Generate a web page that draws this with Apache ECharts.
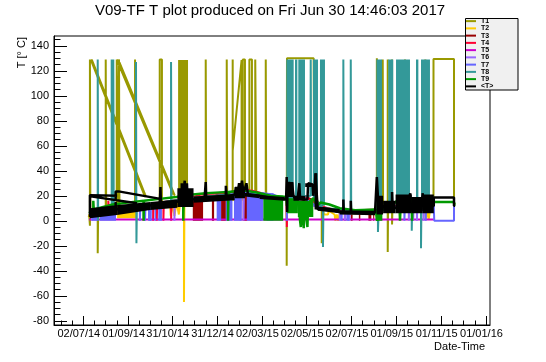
<!DOCTYPE html>
<html><head><meta charset="utf-8">
<script src="https://cdn.jsdelivr.net/npm/echarts@6/dist/echarts.min.js"></script>
<style>html,body{margin:0;padding:0;background:#fff}#c{width:546px;height:362px}</style>
</head><body><div id="c"></div>
<script>
// x values are days since 02/07/14
const xTickDays = [0, 61, 121, 182, 243, 304, 365, 426, 487, 548];
const xTickLabels = ['02/07/14','01/09/14','31/10/14','31/12/14','02/03/15','02/05/15','02/07/15','01/09/15','01/11/15','01/01/16'];
const yTickValues = [-80,-60,-40,-20,0,20,40,60,80,100,120,140];
const seriesNames = ['T1','T2','T3','T4','T5','T6','T7','T8','T9','<T>'];

// line data: [day, value]; null = break in the line
const T1_line = [[8,5],[9,-4],[9,129],[9.6,5],[19.6,7],[19.6,-26],[20.2,7],[30.5,8],[30.5,129],[31.1,8],
 [45.5,9],[45.5,129],[47,129],[47,9],[48.6,9],[48.6,129],[49.2,9],[70.4,10],[70.4,129],[71,10],
 [104,13],[104,129],[107,129],[107,13],[129,15],[166.6,18],[166.6,129],[167.2,18],
 [195.2,20],[195.2,129],[195.8,20],[203.3,21],[203.3,129],[203.3,56],[215.4,128.6],[215.4,22],
 [217,24],[217,129],[220,129],[220,24],[226,22],[226,129],[229.5,129],[229.5,22],[234,21],[234,129],[235.5,129],[235.5,21],
 [248.3,19],[248.3,129],[248.9,19],[276.8,17],[276.8,-36],[277.2,130],[313.5,130],[314,70],[314.4,20],
 [324.5,10],[324.5,-18],[325,10],[399.5,7],[399.5,130],[401.5,130],[401.5,8],[407.5,10],[407.5,129],[408,10],
 [414.3,10],[414.3,129],[414.3,-25],[414.8,10],[420.2,10],[420.2,129],[420.2,-3],[420.7,10],
 [437.8,12],[437.8,129],[438.3,12],[465.5,12],[465.5,129],[467,129],[467,12],
 [476.6,13],[476.6,129.5],[504.5,129.5],[504.5,14],[506,13],
 null,[10,129],[84,19],null,[11.5,129],[85.5,19],null,[45.5,129],[122.5,21],null,[47.5,129],[124.5,20]];
const T2_line = [[7,3],[9,5],[15,4],[20,6],[30,7],[44,7.5],[75,9],[90,11.5],[110,13],[118,14],[119,4],[121,14],[124,4],
 [127,15],[130,5],[132,15.5],[137,16],[137,-65],[137.6,16],[165,18],[196,19.5],[197,16.6],[216,16.6],[217,22],[240,20],
 [270,18],[290,19],[320,11],[326,8],[328,5],[333,5],[334,8],[342,5],[343,0],[345,5],[347,0],[349,6],[370,6],[400,8],
 [440,12],[465,10],[466,1],[468,9],[470,1],[472,9],[477,11]];
const T3_line = [[8,6],[40,8.5],[80,12],[120,15.5],[149,18],[163,19.5],[180,20.5],[200,22],[217,25],[230,23],[245,21],
 [270,18],[300,20],[320,14],[330,10],[350,8],[370,7],[400,9],[430,12],[477,12]];
const T4_line = [[8,6],[34,9],[34,16],[35,9],[60,11],[95,13],[95,0],[95.6,13],[100,14],[100,0],[100.6,14],[109,15],[109,0],
 [109.6,15],[119.5,16],[119.5,0],[120.1,16],[150,19],[160,21],[180,22],[200,23],[215,25],[230,24],[250,21],[276,18],
 [277,0],[277,-5],[277.6,18],[300,20],[320,12],[340,9],[356,8],[356,0],[356.6,8],[400,9],[440,13],[477,12]];
const T5_line = [[8,1],[477,1]];
const T6_line = [[8,5],[12,6],[12,0],[12.6,6],[60,10],[124,15.5],[124,0],[124.6,15.5],[150,18],[200,21],[214,22.5],[214,0],
 [214.6,22.5],[218,23],[218,0],[218.6,23],[250,20],[280,17],[320,11],[349,7],[349,0],[349.6,7],[356,7],[356,0],[356.6,7],
 [362,6],[362,0],[362.6,6],[400,9],[443,12],[443,0],[443.6,12],[449,12],[449,0],[449.6,12],[454,11],[454,0],[454.6,11],
 [463,12],[463,0],[463.6,12],[477,12]];
const T7_line = [[8,4],[20,7],[40,9],[60,10],[77,11],[77,0],[77.6,11],[84,12],[84,0],[84.6,12],[91,12.5],[91,0],[91.6,12.5],
 [120,15],[150,17],[180,19],[216,22],[245,22],[258,21],[270,18],[277,17],[277,0],[277.6,17],[300,18],[320,11],[349,7],
 [380,7],[410,10],[437,12],[437,0],[437.6,12],[466,12],[466,0],[466.6,12],[477,12],[477.6,0],[504.5,0],[504.5,12],[506,12]];
const T8_line = [[8,5],[19.6,7],[19.6,129],[20.2,129],[20.2,0],[20.8,7],[38.6,9],[38.6,129],[39.2,129],[39.2,8],[40.8,9],
 [40.8,129],[41.4,9],[71.7,11],[71.7,127],[72.3,127],[72.3,-18],[72.9,11],[119.4,16],[119.4,127],[120,16],[160,19],[200,21],
 [240,21],[276,18],[309,20],[309.5,129],[310.3,129],[310.3,20],[312,22],[320,14],[326.2,10],[326.2,-21],[326.8,10],
 [353.9,9],[353.9,129],[354.5,9],[364,8],[364,129],[364.6,8],[398,8],[401,8],[401,-9],[402,8],[447,12],[447,-8],[447.6,12],
 [459.6,12],[459.6,-22],[460.2,12],[477,12]];
const T9_line = [[8,6],[13.6,9],[13.6,16],[14.2,9],[40,13],[60,14.5],[82,16],[82,0],[82.6,16],[104,17.5],[126.7,19],[136,20],
 [136,0],[136.6,20],[149,21],[166.6,22],[180,22.5],[197,23],[197,0],[197.6,23],[213,24],[222,24],[236,22.6],[255,20],
 [270,19.5],[276,19],[277,12],[292,16],[296,-5],[297,14],[300,-6],[301,15],[305,-5],[306,14],[313,18],[318,12],[323,14.6],
 [335,13],[349,10],[370,8.5],[398,9],[400,0],[402,8],[420,12],[430,18],[431,0],[432,15],[447,18],[447.5,0],[448,16],
 [455,18],[457,8],[460,14],[468,13],[472,9],[477,15],[504.5,15],[505,12]];
const TM_line = [[9,3],[9,20.5],[46,20],null,[44,5],[44,23.5],[48,23.5],[105,17.5],null,[10,19.5],[73,14],null,
 [9,6],[23,7.5],[43,9],[64,10.5],[84,12],[104,13],[105,13],[105,27],[105.6,14],[125,15],[134,16],[134,30],[135,16],
 [138,32],[139,17],[141,30],[142,17],[145,17],[165,17.5],[166.6,17.5],[166.6,31],[167.2,18],[180,18.5],[194,19.5],[194,28],
 [195,19.5],[200,20],[206,21],[208,27],[210,22],[212,30],[214,24],[216,32],[218,22],[222,30],[224,21],[240,20],[255,18.5],
 [270,17.5],[276,17],[276.8,35],[277.4,7],[278,28],[280,31],[282,22],[284,30],[286,20],[288,18],[290,17],[292,19],[294,30],
 [295,18],[300,17],[305,17],[306,30],[312,29],[313,20],[315,28],[316,38],[318,38],[319,9],[322,10],[326,10],[335,9],[349,7],
 [353.9,7],[353.9,17],[354.5,7],[364,6.5],[364,16],[364.6,6.5],[397,6.5],[399.5,7],[399.5,35],[401.5,35],[402,8],[410,12],
 [420,10],[420.2,23],[421,10],[440,12],[445,22],[446,8],[460,12],[462,22],[463,8],[477,12],[477,18.7],[504.5,18.7],
 [504.5,12],[506,12]];

// dense filled stretches: [dayStart, dayEnd, low, high] or [dayStart, dayEnd, lowStart, highStart, lowEnd, highEnd]
const T1_fill = [[129,142.5,18,128.6]];
const T2_fill = [[46,73,2,7.5]];
const T3_fill = [[149,163,0,19],[175,178,0,19.5],[187.5,194,0,20],[217,223,0,23],[240.5,242.5,0,15],[364,366.5,0,5],
 [375,377,0,5],[388,392,0,6],[394.5,396,0,5]];
const T4_fill = [];
const T5_fill = [];
const T6_fill = [];
const T7_fill = [[11.5,20.5,0,7],[22.7,36.3,0,6],[36.3,44.5,0,7],[88,93,0,12],[97,99,0,12],[102,107,0,12],
 [181.5,187.5,0,18],[194,203,0,19],[205,215.5,0,20],[222.5,245,0,22],[249.6,258.6,0,22],[350,353,0,7],[358,362,0,6]];
const T8_fill = [[276.3,286.3,18,129],[288.1,291.3,18,129],[292.6,301.7,18,129],[312.6,319.4,18,129],[322.1,328.9,12,129],
 [398.9,406.6,8,129],[415,421.8,10,129],[425.6,444.6,12,129],[452.8,456,12,129],[459.6,471.8,12,129]];
const T9_fill = [[245,272,0,20],[277,292,6,18],[292,313,3,16],[398,407,0,8]];
const TM_fill = [[9,46,2,10,4.6,12.6],[46,91,4.6,12.6,8.6,15],[91,128,8.6,15,10.5,17],[128,150,11,26],
 [150,206,14.5,19.5,16.5,21.5],[206,220,18,27],[220,240,19.5,22.5,18,21],[240,274,17.5,20.5,16,19],[278,286,19,31],
 [286,302,16,20],[302,311,27,30],[314.7,318.4,9,38],[319,349,8,11.5,6,9.5],[349,397,5,8.5,4.5,8],[399,408,5,20],
 [408,425,6,16],[425,447,6,21],[447,462,6,19],[462,477,6,21]];

const lines = [T1_line,T2_line,T3_line,T4_line,T5_line,T6_line,T7_line,T8_line,T9_line,TM_line];
const fills = [T1_fill,T2_fill,T3_fill,T4_fill,T5_fill,T6_fill,T7_fill,T8_fill,T9_fill,TM_fill];
const colors = ['#999900','#ffcc00','#990000','#ff0033','#cc00cc','#9966ff','#6666ff','#339999','#009900','#000000'];
const widths = [2,2,2,2,2,2,2,2,2.5,2.5];

const X_MIN = -39.9, X_MAX = 553.5, Y_MIN = -83.4, Y_MAX = 147.8;
const FONT = '"Liberation Sans", Arial, Helvetica, sans-serif';

const xMinor = [];
for (let i = 0; i < xTickDays.length - 1; i++) {
  const step = (xTickDays[i+1] - xTickDays[i]) / 4;
  for (let k = 1; k < 4; k++) xMinor.push(xTickDays[i] + k * step);
}
const avgStep = (xTickDays[xTickDays.length-1] - xTickDays[0]) / (xTickDays.length - 1) / 4;
for (let v = xTickDays[0] - avgStep; v > X_MIN; v -= avgStep) xMinor.push(v);
for (let v = xTickDays[xTickDays.length-1] + avgStep; v < X_MAX; v += avgStep) xMinor.push(v);
const yMinor = [];
for (let v = -80; v <= 145; v += 5) if (v % 20 !== 0) yMinor.push(v);

function fillRenderer(color, items) {
  return function (params, api) {
    const it = items[params.dataIndex];
    const d0 = it[0], d1 = it[1];
    const lo0 = it[2], hi0 = it[3];
    const lo1 = it.length > 4 ? it[4] : lo0, hi1 = it.length > 4 ? it[5] : hi0;
    const pts = [api.coord([d0, lo0]), api.coord([d0, hi0]), api.coord([d1, hi1]), api.coord([d1, lo1])];
    if (pts[2][0] - pts[0][0] < 1) { pts[2][0] = pts[0][0] + 1; pts[3][0] = pts[0][0] + 1; }
    return { type: 'polygon', shape: { points: pts }, style: { fill: color } };
  };
}

const series = [];
seriesNames.forEach((name, i) => {
  const z = 2 + i * 0.01;
  series.push({
    type: 'line', name: name, color: colors[i], symbol: 'none', showSymbol: false, silent: true, z: z,
    lineStyle: { width: widths[i], color: colors[i] }, connectNulls: false, clip: true,
    data: lines[i].map(p => p === null ? [NaN, NaN] : p)
  });
  if (fills[i].length) {
    series.push({
      type: 'custom', name: name, color: colors[i], silent: true, clip: true, z: z + 0.005,
      encode: { x: [0, 1], y: [2, 3] }, renderItem: fillRenderer(colors[i], fills[i]),
      data: fills[i].map(f => f.slice(0, 4))
    });
  }
});

const chart = echarts.init(document.getElementById('c'));
chart.setOption({
  animation: false,
  backgroundColor: '#ffffff',
  grid: { left: 54, right: 56, top: 36, bottom: 37, show: true, borderColor: '#000', borderWidth: 1, backgroundColor: '#fff' },
  xAxis: [{
    type: 'value', min: X_MIN, max: X_MAX, position: 'bottom',
    axisLine: { show: true, onZero: false, lineStyle: { color: '#000', width: 1 } },
    axisTick: { show: true, inside: true, length: 9, customValues: xTickDays, lineStyle: { color: '#000' } },
    axisLabel: { show: true, customValues: xTickDays, margin: 3, color: '#000', fontSize: 11, fontFamily: FONT,
      padding: [0, 9, 0, 0],
      formatter: v => { const i = xTickDays.indexOf(v); return i >= 0 ? xTickLabels[i] : ''; } },
    splitLine: { show: false }
  }, {
    type: 'value', min: X_MIN, max: X_MAX, position: 'bottom',
    axisLine: { show: false, onZero: false }, axisLabel: { show: false }, splitLine: { show: false },
    axisTick: { show: true, inside: true, length: 4.5, customValues: xMinor, lineStyle: { color: '#000' } }
  }],
  yAxis: [{
    type: 'value', min: Y_MIN, max: Y_MAX, position: 'left',
    axisLine: { show: true, onZero: false, lineStyle: { color: '#000', width: 1 } },
    axisTick: { show: true, inside: true, length: 13, customValues: yTickValues, lineStyle: { color: '#000' } },
    axisLabel: { show: true, customValues: yTickValues, margin: 5, color: '#000', fontSize: 11, fontFamily: FONT },
    splitLine: { show: false }
  }, {
    type: 'value', min: Y_MIN, max: Y_MAX, position: 'left',
    axisLine: { show: false, onZero: false }, axisLabel: { show: false }, splitLine: { show: false },
    axisTick: { show: true, inside: true, length: 6.5, customValues: yMinor, lineStyle: { color: '#000' } }
  }],
  legend: {
    data: seriesNames, orient: 'vertical', left: 466, top: 17.5, padding: 0, itemGap: 0,
    itemWidth: 10, itemHeight: 2, icon: 'rect', selectedMode: false, z: 6,
    textStyle: { fontSize: 7, lineHeight: 7.25, color: '#000', fontFamily: FONT, fontWeight: 'bold' }
  },
  graphic: [
    { type: 'rect', z: 5, shape: { x: 465.5, y: 18.5, width: 52.5, height: 71.5 },
      style: { fill: '#f0f0f0', stroke: '#000', lineWidth: 1 } },
    { type: 'text', z: 5, x: 270, y: 3,
      style: { text: 'V09-TF T plot produced on Fri Jun 30 14:46:03 2017', textAlign: 'center', textVerticalAlign: 'top',
               font: '15px ' + FONT, fill: '#000' } },
    { type: 'text', z: 5, x: 485, y: 341,
      style: { text: 'Date-Time', textAlign: 'right', textVerticalAlign: 'top', font: '11px ' + FONT, fill: '#000' } },
    { type: 'text', z: 5, x: 22, y: 37, rotation: Math.PI / 2,
      style: { text: 'T [° C]', textAlign: 'right', textVerticalAlign: 'middle', font: '11px ' + FONT, fill: '#000' } }
  ],
  series: series
});
</script></body></html>
